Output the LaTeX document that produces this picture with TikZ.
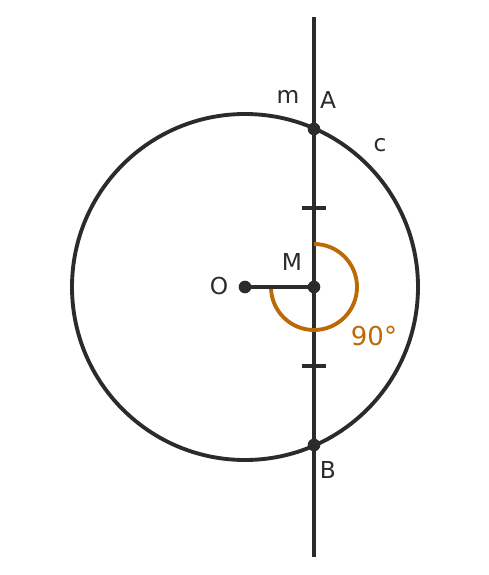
\documentclass[tikz,border=0pt]{standalone}
\usepackage{fontspec}
\setmainfont{DejaVu Sans}
\definecolor{ink}{HTML}{2B2B2B}
\definecolor{ang}{HTML}{BC6A06}
\begin{document}
\begin{tikzpicture}[x=0.75pt,y=-0.75pt,
  stroke/.style={draw=ink,line width=2.9pt},
  dot/.style={circle,fill=ink,inner sep=0pt,minimum size=9.5pt},
  lbl/.style={text=ink,font=\fontsize{17.5}{19}\selectfont,inner sep=0pt},
  anglbl/.style={text=ang,font=\fontsize{19.5}{21}\selectfont,inner sep=0pt}]
\useasboundingbox (0,0) rectangle (489,575);
\coordinate (O) at (245,287);
\coordinate (M) at (314,287);
\coordinate (A) at (314,129);
\coordinate (B) at (314,445);
\coordinate (top) at (314,17);
\coordinate (bot) at (314,557);
\coordinate (t1) at (314,208);
\coordinate (t2) at (314,366);
% circle
\draw[stroke] (O) circle[radius=173*0.75pt];
% line m
\draw[stroke] (top) -- (bot);
% ticks
\draw[stroke] ([xshift=-12*0.75pt]t1) -- ([xshift=12*0.75pt]t1);
\draw[stroke] ([xshift=-12*0.75pt]t2) -- ([xshift=12*0.75pt]t2);
% angle arc
\draw[draw=ang,line width=2.9pt] ([xshift=-43*0.75pt]M) arc[start angle=180,end angle=450,radius=43*0.75pt];
% segment OM
\draw[stroke] (O) -- (M);
% dots
\node[dot] (nO) at (O) {};
\node[dot] (nM) at (M) {};
\node[dot] (nA) at (A) {};
\node[dot] (nB) at (B) {};
% labels
\node[lbl] (lm) at (288,97) {m};
\node[lbl] (lA) at (328,100) {A};
\node[lbl] (lc) at (380,145) {c};
\node[lbl] (lM) at (292,262) {M};
\node[lbl] (lO) at (219,286) {O};
\node[lbl] (lB) at (328,470) {B};
\node[anglbl] (l90) at (374,336) {90°};
\end{tikzpicture}
\end{document}
